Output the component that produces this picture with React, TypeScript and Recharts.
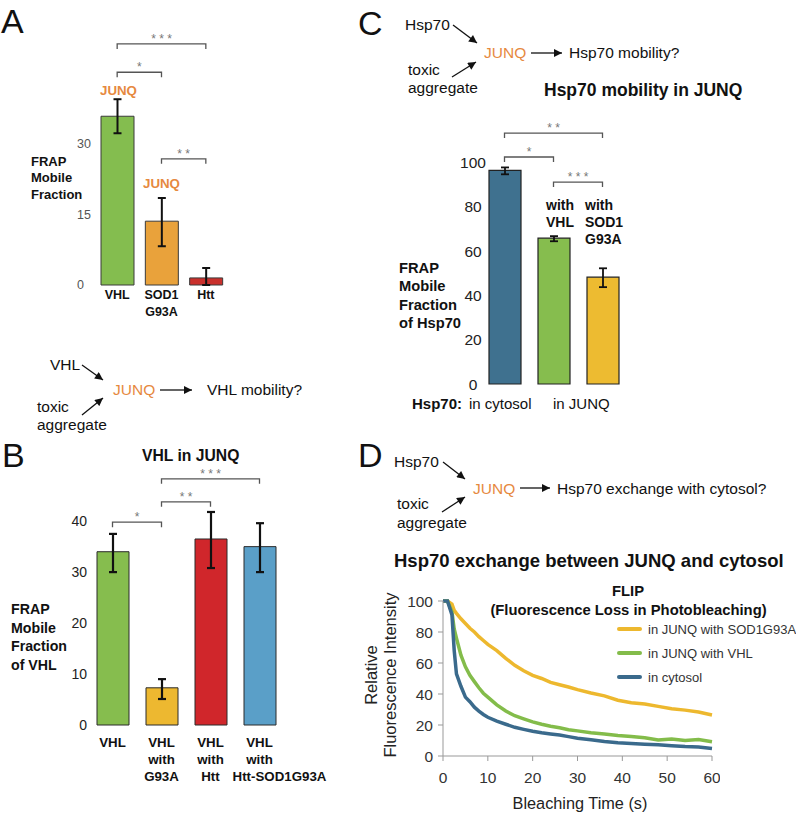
import React from 'react';
import {
  BarChart,
  Bar,
  Cell,
  ErrorBar,
  XAxis,
  YAxis,
  ReferenceLine,
  LineChart,
  Line,
  Legend,
} from 'recharts';

const FONT = '"Liberation Sans", Arial, Helvetica, sans-serif';
const ORANGE = '#E6893F';

// Panel A: FRAP mobile fraction of JUNQ substrates
const catsA = ['VHL', 'SOD1\nG93A', 'Htt'];
const valsA = [35.7, 13.5, 1.5];
const errsA = [[3.6, 3.6], [5.3, 4.9], [1.5, 2.1]];
const colorsA = ['#84BD4F', '#E9A23B', '#C9302C'];
const sigA = [
  { a: 0, b: 2, y: 51, stars: '* * *' },
  { a: 0, b: 1, y: 45, stars: '*' },
  { a: 1, b: 2, y: 26.7, stars: '* *' },
];

// Panel B: VHL in JUNQ
const catsB = ['VHL', 'VHL\nwith\nG93A', 'VHL\nwith\nHtt', 'VHL\nwith\nHtt-SOD1G93A'];
const valsB = [34, 7.3, 36.5, 35];
const errsB = [[4, 3.5], [2.2, 1.7], [5.7, 5.3], [5, 4.6]];
const colorsB = ['#86BD4E', '#EDB830', '#D0262B', '#5A9FC8'];
const sigB = [
  { a: 1, b: 3, y: 48.3, stars: '* * *' },
  { a: 1, b: 2, y: 43.8, stars: '* *' },
  { a: 0, b: 1, y: 39.8, stars: '*' },
];

// Panel C: Hsp70 mobility
const catsC = ['cytosol', 'VHL', 'SOD1G93A'];
const valsC = [96.4, 65.8, 48.2];
const errsC = [[1.8, 1.3], [1.4, 0.9], [4.5, 4.0]];
const colorsC = ['#3F718F', '#86BD4E', '#EDBB31'];
const sigC = [
  { a: 0, b: 2, y: 113.2, stars: '* *' },
  { a: 0, b: 1, y: 102.4, stars: '*' },
  { a: 1, b: 2, y: 91.1, stars: '* * *' },
];

// Panel D: FLIP curves
const timeD = [0, 1, 2, 2.5, 3, 4, 5, 6, 7, 8, 9, 10, 12, 14, 16, 18, 20, 22, 24, 26, 28, 30, 33, 36, 39, 42, 45, 48, 51, 54, 57, 60];
const sodD = [100, 100, 98, 94, 92, 88.5, 85.5, 82.4, 80, 77, 74.5, 72, 68, 63, 58.5, 55, 52, 50, 47.5, 46, 44.5, 42.8, 40.6, 38.8, 36, 34.3, 33.5, 32, 30.5, 29.6, 28.4, 26.5];
const vhlD = [100, 100, 93, 82, 76, 65, 57.5, 52, 48, 44, 40.5, 38, 33, 29, 26, 24, 22, 20.5, 19.2, 18.2, 17, 16.2, 15, 14.2, 13.3, 12.6, 11.8, 10.3, 11, 10, 10.6, 9.2];
const cytD = [100, 100, 91, 68, 53, 45, 38, 35, 31.5, 29, 26.8, 25, 22.5, 20.5, 18.5, 17.2, 16, 15, 14.2, 13.5, 12.5, 11.5, 10.5, 9.4, 8.5, 8, 7.6, 7.2, 6.6, 6.1, 5.8, 4.8];
const seriesD = [
  { key: 'sod', name: 'in JUNQ with SOD1G93A', color: '#EDB82E' },
  { key: 'vhl', name: 'in JUNQ with VHL', color: '#83BC4A' },
  { key: 'cyt', name: 'in cytosol', color: '#3A6A8C' },
];

const toRows = (cats: string[], vals: number[], errs: number[][]) =>
  cats.map((name, i) => ({ name, v: vals[i], e: errs[i] }));

const dataA = toRows(catsA, valsA, errsA);
const dataB = toRows(catsB, valsB, errsB);
const dataC = toRows(catsC, valsC, errsC);
const dataD = timeD.map((t, i) => ({ t, sod: sodD[i], vhl: vhlD[i], cyt: cytD[i] }));

function bracket(stars: string) {
  return (p: any) => (
    <g>
      <path
        d={`M${p.x1},${p.y1 + 5}V${p.y1}H${p.x2}V${p.y1 + 5}`}
        fill="none"
        stroke="#555"
        strokeWidth={1.3}
      />
      <text x={(p.x1 + p.x2) / 2} y={p.y1 - 1} textAnchor="middle" fontSize={12} fill="#777">
        {stars}
      </text>
    </g>
  );
}

// multi-line category label; very long lines are nudged right so they clear the neighbour
function CatTick(props: any) {
  const { x, y, payload, dy, lh, fs } = props;
  const lines = String(payload.value).split('\n');
  return (
    <text x={x} y={y + dy} textAnchor="middle" fontSize={fs} fontWeight="bold" fill="#111">
      {lines.map((l, i) => (
        <tspan key={i} x={l.length > 8 ? x + 20 : x} dy={i === 0 ? 0 : lh}>
          {l}
        </tspan>
      ))}
    </text>
  );
}

function T(props: any) {
  const { x, y, s = 15.5, b, c = '#111', a = 'start', children } = props;
  return (
    <text x={x} y={y} fontSize={s} fontWeight={b ? 'bold' : 'normal'} fill={c} textAnchor={a}>
      {children}
    </text>
  );
}

function Arrow({ x1, y1, x2, y2 }: any) {
  return <line x1={x1} y1={y1} x2={x2} y2={y2} stroke="#111" strokeWidth={1.3} markerEnd="url(#ah)" />;
}

export default function App() {
  return (
    <div
      style={{
        position: 'absolute',
        left: 0,
        top: 0,
        width: 796,
        height: 815,
        background: '#fff',
        fontFamily: FONT,
      }}
    >
      {/* A */}
      <div style={{ position: 'absolute', left: 0, top: 0 }}>
        <BarChart width={240} height={330} data={dataA} margin={{ top: 25, right: 12, bottom: 0, left: 0 }}>
          <XAxis
            dataKey="name"
            axisLine={false}
            tickLine={false}
            tickSize={0}
            tickMargin={0}
            height={45}
            interval={0}
            tick={(p: any) => <CatTick {...p} dy={14.4} lh={17} fs={12.5} />}
          />
          <YAxis
            domain={[0, 55]}
            ticks={[0, 15, 30]}
            width={95}
            axisLine={false}
            tickLine={false}
            tickSize={0}
            tickMargin={18}
            tick={{ fontSize: 12.5, fill: '#555', textAnchor: 'start' }}
          />
          <Bar dataKey="v" barSize={33} stroke="#3a3a3a" strokeWidth={1} isAnimationActive={false}>
            {dataA.map((d, i) => (
              <Cell key={d.name} fill={colorsA[i]} />
            ))}
            <ErrorBar dataKey="e" width={4} strokeWidth={2} stroke="#111" />
          </Bar>
          {sigA.map((s, i) => (
            <ReferenceLine
              key={i}
              segment={[{ x: catsA[s.a], y: s.y }, { x: catsA[s.b], y: s.y }]}
              shape={bracket(s.stars)}
            />
          ))}
        </BarChart>
      </div>

      {/* B */}
      <div style={{ position: 'absolute', left: 0, top: 440 }}>
        <BarChart width={345} height={360} data={dataB} margin={{ top: 20, right: 61, bottom: 15, left: 0 }}>
          <XAxis
            dataKey="name"
            axisLine={false}
            tickLine={false}
            tickSize={0}
            tickMargin={0}
            height={60}
            interval={0}
            tick={(p: any) => <CatTick {...p} dy={21.6} lh={17} fs={13.3} />}
          />
          <YAxis
            domain={[0, 52]}
            ticks={[0, 10, 20, 30, 40]}
            width={88}
            axisLine={false}
            tickLine={false}
            tickSize={0}
            tickMargin={1}
            tick={{ fontSize: 14, fill: '#222' }}
          />
          <Bar dataKey="v" barSize={32} stroke="#2a2a2a" strokeWidth={1} isAnimationActive={false}>
            {dataB.map((d, i) => (
              <Cell key={d.name} fill={colorsB[i]} />
            ))}
            <ErrorBar dataKey="e" width={4} strokeWidth={2.2} stroke="#111" />
          </Bar>
          {sigB.map((s, i) => (
            <ReferenceLine
              key={i}
              segment={[{ x: catsB[s.a], y: s.y }, { x: catsB[s.b], y: s.y }]}
              shape={bracket(s.stars)}
            />
          ))}
        </BarChart>
      </div>

      {/* C */}
      <div style={{ position: 'absolute', left: 390, top: 100 }}>
        <BarChart width={260} height={320} data={dataC} margin={{ top: 18, right: 23, bottom: 0, left: 0 }}>
          <XAxis dataKey="name" axisLine={false} tickLine={false} tick={false} height={36} />
          <YAxis
            domain={[0, 120]}
            ticks={[0, 20, 40, 60, 80, 100]}
            width={90}
            axisLine={false}
            tickLine={false}
            tickSize={0}
            tickMargin={7}
            tick={{ fontSize: 15.5, fill: '#222', textAnchor: 'middle' }}
          />
          <Bar dataKey="v" barSize={32} stroke="#222" strokeWidth={1.2} isAnimationActive={false}>
            {dataC.map((d, i) => (
              <Cell key={d.name} fill={colorsC[i]} />
            ))}
            <ErrorBar dataKey="e" width={4} strokeWidth={1.8} stroke="#111" />
          </Bar>
          {sigC.map((s, i) => (
            <ReferenceLine
              key={i}
              segment={[{ x: catsC[s.a], y: s.y }, { x: catsC[s.b], y: s.y }]}
              shape={bracket(s.stars)}
            />
          ))}
        </BarChart>
      </div>

      {/* D */}
      <div style={{ position: 'absolute', left: 390, top: 580 }}>
        <LineChart width={330} height={230} data={dataD} margin={{ top: 21, right: 8, bottom: 4, left: 0 }}>
          <XAxis
            dataKey="t"
            type="number"
            domain={[0, 60]}
            ticks={[0, 10, 20, 30, 40, 50, 60]}
            stroke="#999"
            tickSize={5}
            tickMargin={11}
            height={50}
            tick={{ fontSize: 15.5, fill: '#333' }}
          />
          <YAxis
            domain={[0, 100]}
            ticks={[0, 20, 40, 60, 80, 100]}
            width={53}
            stroke="#999"
            tickSize={5}
            tickMargin={5}
            tick={{ fontSize: 15.5, fill: '#333' }}
          />
          <Legend
            layout="vertical"
            align="center"
            verticalAlign="middle"
            wrapperStyle={{ top: 37, left: 227, width: 200 }}
            content={() => (
              <div style={{ fontSize: 13, color: '#333' }}>
                {seriesD.map((s) => (
                  <div key={s.key} style={{ display: 'flex', alignItems: 'center', height: 24, whiteSpace: 'nowrap' }}>
                    <span
                      style={{ width: 25, height: 4, background: s.color, borderRadius: 2, marginRight: 6 }}
                    />
                    <span>{s.name}</span>
                  </div>
                ))}
              </div>
            )}
          />
          {seriesD.map((s) => (
            <Line
              key={s.key}
              type="linear"
              dataKey={s.key}
              name={s.name}
              stroke={s.color}
              strokeWidth={3.5}
              dot={false}
              isAnimationActive={false}
            />
          ))}
        </LineChart>
      </div>

      {/* text and diagrams */}
      <svg
        width={796}
        height={815}
        style={{ position: 'absolute', left: 0, top: 0, pointerEvents: 'none', fontFamily: FONT }}
      >
        <defs>
          <marker
            id="ah"
            viewBox="0 0 10 10"
            refX="10"
            refY="5"
            markerWidth="9"
            markerHeight="8"
            markerUnits="userSpaceOnUse"
            orient="auto"
          >
            <path d="M0,0 L10,5 L0,10 z" fill="#111" />
          </marker>
        </defs>

        {/* panel letters */}
        <T x={1} y={33} s={34}>A</T>
        <T x={358} y={35} s={34}>C</T>
        <T x={2} y={467} s={34}>B</T>
        <T x={358} y={467} s={34}>D</T>

        {/* A labels */}
        <T x={31} y={165.6} s={13} b>FRAP</T>
        <T x={31} y={182} s={13} b>Mobile</T>
        <T x={31} y={199} s={13} b>Fraction</T>
        <T x={100} y={95} s={13.3} b c={ORANGE}>JUNQ</T>
        <T x={143} y={188} s={13.3} b c={ORANGE}>JUNQ</T>

        {/* A diagram */}
        <T x={50} y={370}>VHL</T>
        <T x={113} y={395} c={ORANGE}>JUNQ</T>
        <T x={207} y={395}>VHL mobility?</T>
        <T x={37} y={412}>toxic</T>
        <T x={37} y={430}>aggregate</T>
        <Arrow x1={82} y1={365} x2={103} y2={380} />
        <Arrow x1={82} y1={415} x2={103} y2={398} />
        <Arrow x1={160} y1={390} x2={192} y2={390} />

        {/* B labels */}
        <T x={142} y={461} s={15.7} b>VHL in JUNQ</T>
        <T x={11} y={614} s={14.2} b>FRAP</T>
        <T x={11} y={633} s={14.2} b>Mobile</T>
        <T x={11} y={651} s={14.2} b>Fraction</T>
        <T x={11} y={670} s={14.2} b>of VHL</T>

        {/* C diagram */}
        <T x={405} y={30}>Hsp70</T>
        <T x={408} y={75}>toxic</T>
        <T x={408} y={93}>aggregate</T>
        <T x={484} y={58} c={ORANGE}>JUNQ</T>
        <T x={569} y={58}>Hsp70 mobility?</T>
        <Arrow x1={453} y1={25} x2={477} y2={43} />
        <Arrow x1={452} y1={77} x2={476} y2={62} />
        <Arrow x1={531} y1={53} x2={562} y2={53} />
        <T x={544} y={96} s={17.5} b>Hsp70 mobility in JUNQ</T>

        {/* C labels */}
        <T x={399} y={273} s={14.7} b>FRAP</T>
        <T x={399} y={291} s={14.7} b>Mobile</T>
        <T x={399} y={310} s={14.7} b>Fraction</T>
        <T x={399} y={328} s={14.7} b>of Hsp70</T>
        <T x={546} y={210} s={14} b>with</T>
        <T x={546} y={227} s={14} b>VHL</T>
        <T x={585} y={210} s={14} b>with</T>
        <T x={585} y={227} s={14} b>SOD1</T>
        <T x={585} y={244} s={14} b>G93A</T>
        <T x={412} y={408.5} s={15} b>Hsp70:</T>
        <T x={469} y={408.5} s={15}>in cytosol</T>
        <T x={553} y={408.5} s={15}>in JUNQ</T>

        {/* D diagram */}
        <T x={394} y={467}>Hsp70</T>
        <T x={397} y={509}>toxic</T>
        <T x={397} y={527.5}>aggregate</T>
        <T x={473} y={494} c={ORANGE}>JUNQ</T>
        <T x={557} y={494}>Hsp70 exchange with cytosol?</T>
        <Arrow x1={443} y1={462} x2={465} y2={479} />
        <Arrow x1={442} y1={512} x2={465} y2={497} />
        <Arrow x1={520} y1={488} x2={550} y2={488} />
        <T x={394} y={567} s={18.5} b>Hsp70 exchange between JUNQ and cytosol</T>

        {/* D labels */}
        <T x={628} y={595.5} s={14.8} b a="middle">FLIP</T>
        <T x={628.5} y={614.5} s={14.8} b a="middle">(Fluorescence Loss in Photobleaching)</T>
        <text x={0} y={0} fontSize={16.5} fill="#222" textAnchor="middle" transform="translate(377,675) rotate(-90)">
          Relative
        </text>
        <text x={0} y={0} fontSize={16.5} fill="#222" textAnchor="middle" transform="translate(396,675) rotate(-90)">
          Fluorescence Intensity
        </text>
        <T x={580} y={809} s={16.3} c="#222" a="middle">Bleaching Time (s)</T>
      </svg>
    </div>
  );
}
